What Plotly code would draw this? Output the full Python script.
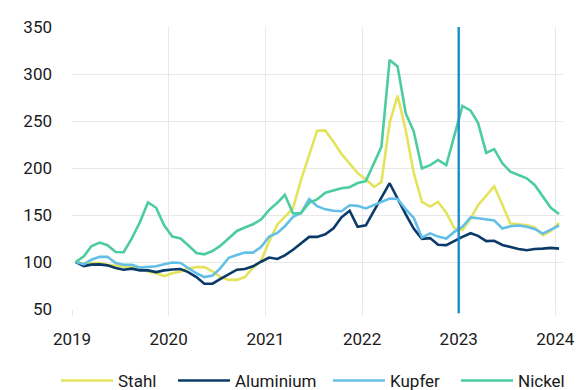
import pandas as pd
import plotly.graph_objects as go

# Monthly price index (Jan 2019 = 100), mid-month observations
months = pd.date_range("2019-01-01", "2024-01-01", freq="MS") + pd.Timedelta(days=14)

stahl = [100, 98, 99, 99, 97, 96, 95, 94, 93, 90, 88, 85,
         88, 90, 93, 94.5, 94.5, 90, 84, 81, 81, 84, 94, 101,
         122, 140, 148, 157, 187, 214, 239.5, 240, 228, 215, 204, 194.5,
         188, 180, 185, 248, 277, 240, 195, 164, 159, 164, 152.5, 136,
         134, 146.3, 160.5, 170.5, 180.5, 161, 141, 140, 139, 136.7, 128.5, 133,
         141.5]

aluminium = [100, 95.7, 97.2, 97.5, 96.4, 93.6, 91.8, 92.9, 91.1, 91.1, 89.3, 91.1,
             92, 92.5, 89.3, 84, 76.9, 76.9, 82, 86.5, 91.8, 92.5, 95.4, 100.3,
             104.8, 103.2, 107, 113, 119.6, 126.7, 126.7, 129.5, 135.8, 147.5, 154.6, 137.5,
             139, 155.3, 168.5, 183.8, 167, 150.7, 135.5, 124.7, 125.4, 118.3, 118, 122.5,
             126.8, 130.6, 127.8, 122.2, 122.6, 118.1, 115.7, 113.9, 112.5, 113.9, 114.2, 115,
             114.2]

kupfer = [100, 97.5, 102.5, 105.5, 105.5, 99, 97, 97, 94, 94.5, 95.5, 97.5,
          99.5, 99, 94, 88, 84, 85.5, 93.5, 104.5, 107.5, 110, 110, 116,
          127, 131, 138, 148, 152, 167, 159.4, 156, 154.5, 154, 160.4, 159.7,
          157, 160.7, 164, 167.5, 167, 156, 147, 126, 130.5, 127, 125, 132,
          137.5, 147.4, 146.5, 145, 144.3, 135.6, 138, 138.8, 137.4, 135.2, 130.2, 134.5,
          138.8]

nickel = [100, 106, 116.8, 120.7, 117.8, 110.7, 110.4, 125, 142.7, 163.4, 157.7, 139,
          127, 125, 117.8, 109.6, 108.2, 111.7, 117.4, 125, 133, 136.7, 140.2, 145.2,
          155.5, 163, 171.5, 151.6, 152, 163, 166.5, 173.7, 176.5, 178.5, 179.5, 184,
          186, 205, 222.5, 315, 308, 258, 239, 199.5, 203, 208.5, 203, 234,
          266, 261, 248, 216, 220, 205, 196, 192.5, 189, 182, 169.5, 157.7,
          151]

series = [
    ("Stahl", stahl, "#e4e45c"),
    ("Aluminium", aluminium, "#0b3a68"),
    ("Kupfer", kupfer, "#63bfe6"),
    ("Nickel", nickel, "#4ccc9f"),
]

year_ticks = ["2019-01-01", "2020-01-01", "2021-01-01", "2022-01-01", "2023-01-01", "2024-01-01"]
year_labels = ["2019", "2020", "2021", "2022", "2023", "2024"]
marker_date = "2023-01-01"

FONT = "Roboto, Liberation Sans, sans-serif"
GRID = "#e8e8e8"
W, H = 579, 390

# one legend box per series so each entry sits at its own spot in the bottom row
legend_left_px = [56, 173, 328, 456]

fig = go.Figure()
for k, (name, values, color) in enumerate(series):
    fig.add_trace(go.Scatter(
        x=months, y=values, name=name, mode="lines",
        line=dict(color=color, width=2.6),
        legend="legend" if k == 0 else f"legend{k + 1}",
    ))

# vertical reference line at the start of 2023
fig.add_shape(
    type="line", xref="x", yref="paper",
    x0=marker_date, x1=marker_date, y0=-0.015, y1=1.0,
    line=dict(color="#1e8dcb", width=2.4), layer="above",
)

legend_common = dict(
    orientation="h", xref="container", yref="container",
    xanchor="left", y=1 - 381 / H, yanchor="middle",
    font=dict(family=FONT, size=17, color="#1a1a1a"),
    itemwidth=52, bgcolor="rgba(0,0,0,0)",
)
legends = {}
for k, px in enumerate(legend_left_px):
    key = "legend" if k == 0 else f"legend{k + 1}"
    legends[key] = dict(legend_common, x=px / W)

fig.update_layout(
    width=W, height=H,
    margin=dict(l=72, r=16, t=27, b=81),
    paper_bgcolor="white", plot_bgcolor="white",
    font=dict(family=FONT, size=17, color="#1a1a1a"),
    showlegend=True,
    **legends,
    xaxis=dict(
        type="date",
        range=["2019-01-01", "2024-01-30"],
        tickvals=year_ticks, ticktext=year_labels,
        showgrid=True, gridcolor=GRID, gridwidth=1,
        ticks="outside", ticklen=6, tickcolor=GRID, tickwidth=1,
        showline=False, zeroline=False, automargin=False,
        ticklabelstandoff=9,
    ),
    yaxis=dict(
        range=[50, 350], tickvals=[50, 100, 150, 200, 250, 300, 350],
        showgrid=True, gridcolor=GRID, gridwidth=1,
        showline=False, zeroline=False, ticks="", automargin=False,
        ticklabelstandoff=19,
    ),
)

fig.write_html("out.html")
